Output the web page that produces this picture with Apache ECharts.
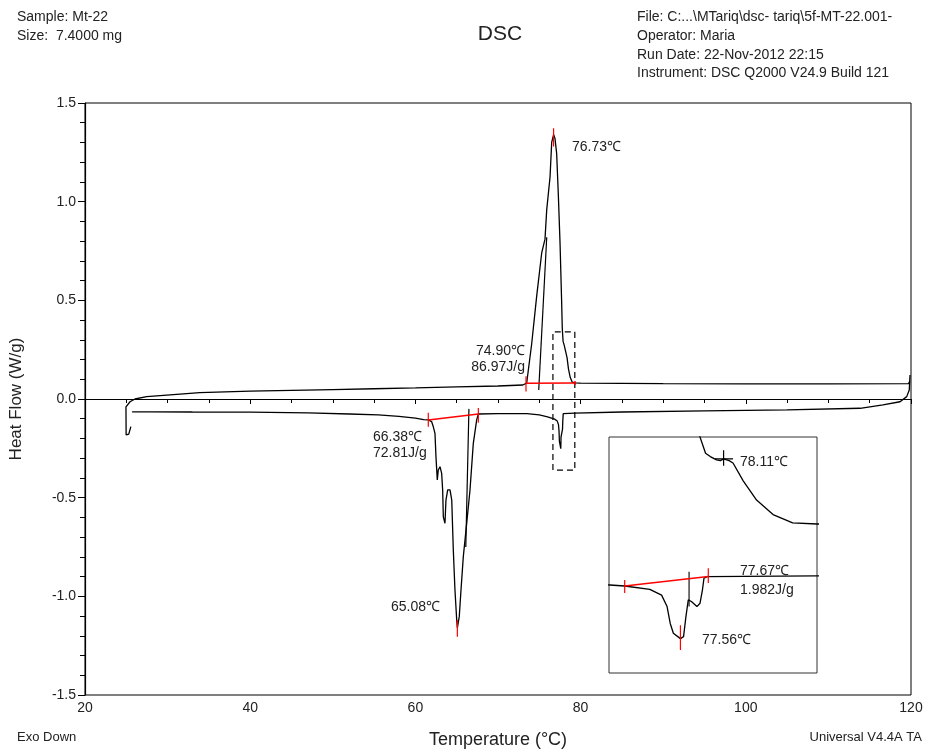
<!DOCTYPE html>
<html>
<head>
<meta charset="utf-8">
<script src="https://cdn.jsdelivr.net/npm/echarts@6/dist/echarts.min.js"></script>
<style>
  html, body { margin: 0; padding: 0; background: #fff; }
  #chart { width: 931px; height: 751px; }
</style>
</head>
<body>
<div id="chart"></div>
<script>
// ---- Heating run (W/g vs °C) ----
const heatingTemp = [25.55, 25.45, 25.3, 25.1, 24.98, 24.96, 25.45, 26.05, 27.46, 29.9, 33.9,
  40, 45, 50, 55, 60, 65, 70, 73.0, 73.47, 74.08, 74.68, 75.29, 75.69, 75.90, 76.30, 76.50,
  76.73, 76.90, 77.10, 77.30, 77.51, 77.70, 77.78, 77.88, 77.94, 78.02, 78.07, 78.11, 78.18,
  78.23, 78.36, 78.53, 78.74, 78.99, 79.30, 80, 85, 90, 100, 110, 119.7, 119.85];
const heatingFlow = [-0.140, -0.150, -0.178, -0.186, -0.182, -0.040, -0.014, 0.000, 0.012, 0.020, 0.032,
  0.040, 0.044, 0.048, 0.052, 0.056, 0.061, 0.066, 0.071, 0.080, 0.280, 0.520, 0.740, 0.810, 0.960, 1.125, 1.300,
  1.340, 1.320, 1.245, 1.040, 0.790, 0.500, 0.360, 0.292, 0.282, 0.272, 0.270, 0.275, 0.270,
  0.263, 0.210, 0.153, 0.110, 0.085, 0.082, 0.080, 0.079, 0.078, 0.077, 0.077, 0.078, 0.090];

// ---- Cooling run (listed in run order, falling temperature) ----
const coolingTemp = [119.88, 119.79, 119.48, 118.67, 116.61, 113.83, 105, 95, 85, 79.30, 77.90,
  77.86, 77.84, 77.81, 77.77, 77.70, 77.66, 77.63, 77.60, 77.56, 77.47, 77.43, 77.39, 77.32,
  77.17, 76.85, 76.66, 76.0, 75.0, 73.5, 70, 67.62, 67.42, 67.01, 66.61, 66.21, 65.80, 65.52,
  65.31, 65.08, 65.00, 64.79, 64.59, 64.40, 64.19, 63.91, 63.70, 63.58, 63.38, 63.30, 63.18,
  62.98, 62.77, 62.65, 62.49, 62.37, 62.17, 61.97, 61.56, 61.0, 60.0, 58.0, 55.5, 52.0, 47.0,
  40.0, 33.0, 28.0, 25.7];
const coolingFlow = [0.122, 0.046, 0.012, -0.014, -0.030, -0.047, -0.055, -0.060, -0.066, -0.072, -0.074,
  -0.079, -0.114, -0.153, -0.163, -0.148, -0.143, -0.193, -0.252, -0.258, -0.242, -0.213, -0.163, -0.129,
  -0.112, -0.102, -0.099, -0.090, -0.080, -0.074, -0.074, -0.076, -0.106, -0.225, -0.461, -0.630, -0.799, -0.968,
  -1.103, -1.160, -1.120, -0.968, -0.765, -0.512, -0.461, -0.461, -0.512, -0.630, -0.597, -0.461, -0.377,
  -0.343, -0.360, -0.410, -0.292, -0.174, -0.141, -0.115, -0.106, -0.104, -0.097, -0.088, -0.080, -0.076, -0.070,
  -0.067, -0.066, -0.065, -0.065];

// ---- Peak analysis results ----
const meltPeak = { onset: 74.90, enthalpy: 86.97, peak: 76.73, baseStart: [73.39, 0.080], baseEnd: [79.32, 0.081] };
const crystPeak = { onset: 66.38, enthalpy: 72.81, peak: 65.08, baseStart: [61.56, -0.106], baseEnd: [67.62, -0.076] };
const minorPeak = { onset: 77.67, enthalpy: 1.982, peak: 77.56, baseStart: [76.85, -0.102], baseEnd: [77.915, -0.074] };
const shoulderTemp = 78.11;

// ---- Axis settings ----
const tempRange = [20, 120];
const flowRange = [-1.5, 1.5];
const zoomTempRange = [76.65, 79.30];
const zoomFlowRange = [-0.36, 0.34];

const zip = (a, b) => a.map((v, i) => [v, b[i]]);
const heating = zip(heatingTemp, heatingFlow);
const cooling = zip(coolingTemp, coolingFlow);
const valueAt = (pts, t) => pts.find(p => p[0] === t)[1];

const FONT = '"Liberation Sans", Arial, sans-serif';
const TXT = '#222';

function seg(points, color, idx, width, type) {
  return {
    type: 'line', xAxisIndex: idx, yAxisIndex: idx, data: points, symbol: 'none',
    silent: true, animation: false, clip: true, z: color === 'red' ? 4 : 3,
    lineStyle: { color: color, width: width || 1.2, type: type || 'solid' }
  };
}
function curve(points, idx) {
  return {
    type: 'line', xAxisIndex: idx, yAxisIndex: idx, data: points, symbol: 'none',
    silent: true, animation: false, clip: true, z: 2,
    lineStyle: { color: '#000', width: 1.3 }
  };
}

const meltTop = valueAt(heating, meltPeak.peak);
const crystBottom = valueAt(cooling, crystPeak.peak);
const minorBottom = valueAt(cooling, minorPeak.peak);
const shoulderVal = valueAt(heating, shoulderTemp);

const series = [
  curve(heating, 0),
  curve(cooling, 0),
  // melting analysis
  seg([meltPeak.baseStart, meltPeak.baseEnd], 'red', 0, 1.5),
  seg([[meltPeak.baseStart[0], meltPeak.baseStart[1] + 0.035], [meltPeak.baseStart[0], meltPeak.baseStart[1] - 0.042]], 'red', 0, 1.2),
  seg([[meltPeak.baseEnd[0], meltPeak.baseEnd[1] + 0.01], [meltPeak.baseEnd[0], meltPeak.baseEnd[1] - 0.01]], 'red', 0, 1.5),
  seg([[meltPeak.peak, meltTop + 0.032], [meltPeak.peak, meltTop - 0.06]], 'red', 0, 1.2),
  seg([[74.93, 0.046], [75.90, 0.82]], '#000', 0, 1.2),
  // crystallisation analysis
  seg([crystPeak.baseStart, crystPeak.baseEnd], 'red', 0, 1.5),
  seg([[crystPeak.baseStart[0], crystPeak.baseStart[1] + 0.036], [crystPeak.baseStart[0], crystPeak.baseStart[1] - 0.034]], 'red', 0, 1.2),
  seg([[crystPeak.baseEnd[0], crystPeak.baseEnd[1] + 0.03], [crystPeak.baseEnd[0], crystPeak.baseEnd[1] - 0.044]], 'red', 0, 1.2),
  seg([[crystPeak.peak, crystBottom + 0.04], [crystPeak.peak, crystBottom - 0.045]], 'red', 0, 1.2),
  seg([[66.48, -0.05], [66.10, -0.75]], '#000', 0, 1.2),
  // dashed box marking the enlarged region
  seg([[zoomTempRange[0], zoomFlowRange[0]], [zoomTempRange[0], zoomFlowRange[1]], [zoomTempRange[1], zoomFlowRange[1]],
       [zoomTempRange[1], zoomFlowRange[0]], [zoomTempRange[0], zoomFlowRange[0]]], '#000', 0, 1.2, [6, 4]),
  // enlarged view
  curve(heating, 1),
  curve(cooling, 1),
  seg([minorPeak.baseStart, minorPeak.baseEnd], 'red', 1, 1.5),
  seg([[minorPeak.baseStart[0], minorPeak.baseStart[1] + 0.018], [minorPeak.baseStart[0], minorPeak.baseStart[1] - 0.021]], 'red', 1, 1.2),
  seg([[minorPeak.baseEnd[0], minorPeak.baseEnd[1] + 0.025], [minorPeak.baseEnd[0], minorPeak.baseEnd[1] - 0.019]], 'red', 1, 1.2),
  seg([[minorPeak.peak, minorBottom + 0.04], [minorPeak.peak, minorBottom - 0.034]], 'red', 1, 1.2),
  seg([[minorPeak.onset, -0.06], [minorPeak.onset, -0.163]], '#000', 1, 1.1),
  seg([[shoulderTemp - 0.11, shoulderVal], [shoulderTemp + 0.12, shoulderVal]], '#000', 1, 1.2),
  seg([[shoulderTemp, shoulderVal + 0.026], [shoulderTemp, shoulderVal - 0.02]], '#000', 1, 1.2)
];

function txt(x, y, s, opts) {
  return {
    type: 'text', x: x, y: y, silent: true, z: 10,
    style: Object.assign({ text: s, fill: TXT, font: '14px ' + FONT, textAlign: 'left', textVerticalAlign: 'middle' }, opts || {})
  };
}
const C = '\u2103';
const graphics = [
  txt(17, 17, 'Sample: Mt-22'),
  txt(17, 36, 'Size:  7.4000 mg'),
  txt(500, 34, 'DSC', { font: '21px ' + FONT, textAlign: 'center' }),
  txt(637, 17, 'File: C:...\\MTariq\\dsc- tariq\\5f-MT-22.001-'),
  txt(637, 36, 'Operator: Maria'),
  txt(637, 55, 'Run Date: 22-Nov-2012 22:15'),
  txt(637, 73, 'Instrument: DSC Q2000 V24.9 Build 121'),
  txt(17, 737, 'Exo Down', { font: '13px ' + FONT }),
  txt(922, 737, 'Universal V4.4A TA', { font: '13px ' + FONT, textAlign: 'right' }),
  // peak annotations
  txt(572, 147, meltPeak.peak.toFixed(2) + C),
  txt(525, 351, meltPeak.onset.toFixed(2) + C, { textAlign: 'right' }),
  txt(525, 367, meltPeak.enthalpy.toFixed(2) + 'J/g', { textAlign: 'right' }),
  txt(373, 437, crystPeak.onset.toFixed(2) + C),
  txt(373, 453, crystPeak.enthalpy.toFixed(2) + 'J/g'),
  txt(391, 607, crystPeak.peak.toFixed(2) + C),
  txt(740, 462, shoulderTemp.toFixed(2) + C),
  txt(740, 571, minorPeak.onset.toFixed(2) + C),
  txt(740, 590, minorPeak.enthalpy.toFixed(3) + 'J/g'),
  txt(702, 640, minorPeak.peak.toFixed(2) + C)
];

const chart = echarts.init(document.getElementById('chart'), null, { renderer: 'canvas' });
chart.setOption({
  animation: false,
  backgroundColor: '#fff',
  grid: [
    { left: 85, top: 103, right: 20, bottom: 56, show: true, borderColor: '#000', borderWidth: 1, outerBoundsMode: 'none', containLabel: false },
    { left: 609, top: 437, width: 208, height: 236, show: true, borderColor: '#333', borderWidth: 1, outerBoundsMode: 'none', containLabel: false }
  ],
  xAxis: [
    {
      type: 'value', gridIndex: 0, min: tempRange[0], max: tempRange[1], interval: 20,
      name: 'Temperature (\u00B0C)', nameLocation: 'middle', nameGap: 36,
      nameTextStyle: { fontFamily: FONT, fontSize: 18, color: TXT },
      axisLine: { lineStyle: { color: '#000', width: 1.2 } },
      axisTick: { length: 5, lineStyle: { color: '#000' } },
      minorTick: { show: true, splitNumber: 4, length: 4, lineStyle: { color: '#000' } },
      splitLine: { show: false },
      axisLabel: { fontFamily: FONT, fontSize: 14, color: TXT, margin: 6 }
    },
    {
      type: 'value', gridIndex: 1, min: zoomTempRange[0], max: zoomTempRange[1], show: false, splitLine: { show: false }
    }
  ],
  yAxis: [
    {
      type: 'value', gridIndex: 0, min: flowRange[0], max: flowRange[1], interval: 0.5,
      name: 'Heat Flow (W/g)', nameLocation: 'middle', nameGap: 60, nameRotate: 90,
      nameTextStyle: { fontFamily: FONT, fontSize: 17, color: TXT },
      axisLine: { lineStyle: { color: '#000', width: 1.2 } },
      axisTick: { length: 7, lineStyle: { color: '#000' } },
      minorTick: { show: true, splitNumber: 5, length: 5, lineStyle: { color: '#000' } },
      splitLine: { show: false },
      axisLabel: { fontFamily: FONT, fontSize: 14, color: TXT, margin: 9, formatter: v => v.toFixed(1) }
    },
    {
      type: 'value', gridIndex: 1, min: zoomFlowRange[0], max: zoomFlowRange[1], show: false, splitLine: { show: false }
    }
  ],
  series: series,
  graphic: graphics
});
</script>
</body>
</html>
